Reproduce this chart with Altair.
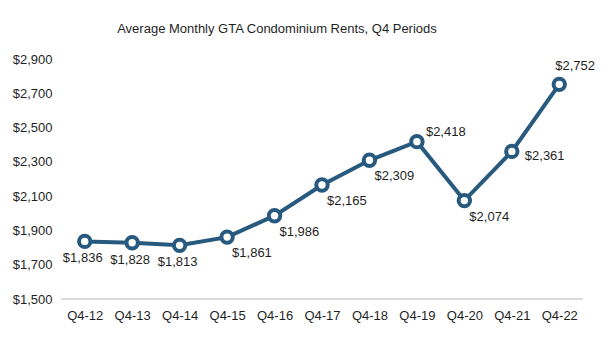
import altair as alt
import pandas as pd

quarters = ["Q4-12", "Q4-13", "Q4-14", "Q4-15", "Q4-16", "Q4-17",
            "Q4-18", "Q4-19", "Q4-20", "Q4-21", "Q4-22"]
rents = [1836, 1828, 1813, 1861, 1986, 2165, 2309, 2418, 2074, 2361, 2752]
y_ticks = [1500, 1700, 1900, 2100, 2300, 2500, 2700, 2900]
y_min, y_max = 1500, 2900

# label placement groups
lab_below = ["Q4-12", "Q4-13", "Q4-14"]
lab_below_right = ["Q4-15", "Q4-16", "Q4-17", "Q4-18", "Q4-20"]
lab_right = ["Q4-21"]
lab_above_right = ["Q4-19"]
lab_above = ["Q4-22"]

df = pd.DataFrame({"quarter": quarters, "rent": rents})

COLOR = "#275A7E"
TXT = "#1f1f1f"
FONT = "Liberation Sans"

yscale = alt.Scale(domain=[y_min, y_max], nice=False, zero=False)
yaxis = alt.Axis(title=None, values=y_ticks, format="$,.0f", domain=False,
                 ticks=False, grid=False, labelPadding=9, labelOverlap=False,
                 labelFontSize=13, labelColor=TXT, labelFont=FONT)

x = alt.X("quarter:N", sort=quarters,
          axis=alt.Axis(title=None, labelAngle=0, ticks=False, grid=False,
                        domain=False, labelPadding=10, labelOverlap=False,
                        labelFontSize=13, labelColor=TXT, labelFont=FONT))
y = alt.Y("rent:Q", scale=yscale, axis=yaxis)

base = alt.Chart(df).encode(x=x, y=y)

baseline = alt.Chart(df).mark_rule(color="#d9d9d9", strokeWidth=1).encode(
    y=alt.Y(datum=y_min, type="quantitative", scale=yscale, axis=yaxis))
line = base.mark_line(color=COLOR, strokeWidth=4)
points = base.mark_point(shape="circle", filled=True, fill="white", fillOpacity=1,
                         stroke=COLOR, strokeWidth=4, size=130, opacity=1)


def labels(cats, **kw):
    return base.transform_filter(
        alt.FieldOneOfPredicate(field="quarter", oneOf=cats)
    ).mark_text(fontSize=13, font=FONT, color=TXT, **kw).encode(
        text=alt.Text("rent:Q", format="$,.0f"))


layers = [
    baseline, line, points,
    labels(lab_below, align="center", baseline="middle", dx=-2, dy=17),
    labels(lab_below_right, align="left", baseline="middle", dx=5, dy=16),
    labels(lab_right, align="left", baseline="middle", dx=13, dy=5),
    labels(lab_above_right, align="left", baseline="middle", dx=9, dy=-10),
    labels(lab_above, align="left", baseline="middle", dx=-4, dy=-18),
]

chart = alt.layer(*layers).properties(
    width=522, height=240,
    background="white",
    title=alt.Title("Average Monthly GTA Condominium Rents, Q4 Periods",
                    fontSize=13, font=FONT, fontWeight="normal", color=TXT,
                    anchor="middle", dx=-45, offset=17),
    autosize=alt.AutoSizeParams(type="none"),
    padding={"left": 61, "top": 59, "right": 27, "bottom": 45},
).configure_view(strokeWidth=0).configure_axis(
    domain=False, ticks=False, grid=False, labelOverlap=False)

chart.save("out.html", embed_options={"renderer": "svg", "actions": False})
